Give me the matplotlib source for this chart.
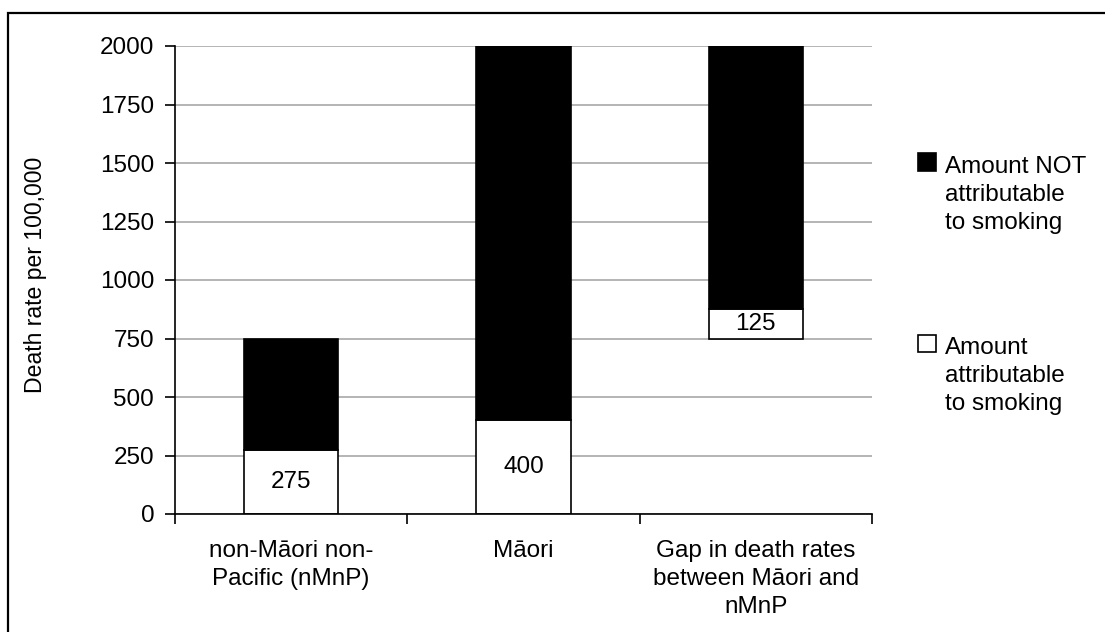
import matplotlib
matplotlib.use("Agg")
import matplotlib.pyplot as plt
from matplotlib.patches import Rectangle
from matplotlib.legend_handler import HandlerPatch

plt.rcParams['font.family'] = ['Liberation Sans', 'DejaVu Sans']

categories = ["non-Māori non-\nPacific (nMnP)", "Māori",
              "Gap in death rates\nbetween Māori and\nnMnP"]
base = [0, 0, 750]                 # invisible floor of each bar
attributable = [275, 400, 125]
not_attributable = [475, 1600, 1125]
yticks = [0, 250, 500, 750, 1000, 1250, 1500, 1750, 2000]
legend_labels = ["Amount NOT\nattributable\nto smoking",
                 "Amount\nattributable\nto smoking"]

FS = 17.5
LS = 1.35
W, H = 1105, 632
fig = plt.figure(figsize=(W / 100, H / 100), dpi=100)
ax = fig.add_axes([175 / W, 1 - 514 / H, 697 / W, 468 / H])

x = list(range(len(categories)))
width = 0.405
white = ax.bar(x, attributable, width, bottom=base, color="white",
               edgecolor="black", linewidth=1.2, zorder=3)
tops = [b + a for b, a in zip(base, attributable)]
black = ax.bar(x, not_attributable, width, bottom=tops, color="black",
               edgecolor="black", linewidth=1.2, zorder=3)
ax.bar_label(white, labels=[str(v) for v in attributable],
             label_type="center", fontsize=FS)

ax.set_xlim(-0.5, 2.5)
ax.set_ylim(0, 2000)
ax.set_yticks(yticks)
ax.set_xticks(x)
ax.set_xticklabels(categories, fontsize=FS, linespacing=LS)
ax.set_xticks([-0.5, 0.5, 1.5, 2.5], minor=True)
ax.tick_params(axis="x", which="major", length=0, pad=19)
ax.tick_params(axis="x", which="minor", length=7, width=1.2, direction="out")
ax.tick_params(axis="y", length=7, width=1.2, direction="out", pad=8,
               labelsize=FS)
ax.grid(axis="y", color="#a0a0a0", linewidth=1.1, zorder=0)
ax.set_axisbelow(True)
for s in ["top", "right"]:
    ax.spines[s].set_visible(False)
for s in ["left", "bottom"]:
    ax.spines[s].set_linewidth(1.2)
    ax.spines[s].set_zorder(4)

ax.set_ylabel("Death rate per 100,000", fontsize=16.6)
ax.yaxis.set_label_coords(-0.184, 0.51)


# legend squares sit level with the first line of each label
def top_square(legend, orig_handle, xdescent, ydescent, width, height, fontsize):
    return Rectangle((-xdescent, -ydescent + LS * fontsize), width, height)


handles = [black.patches[0], white.patches[0]]
leg = fig.legend(handles, legend_labels, loc="upper left",
                 bbox_to_anchor=(918 / W, 1 - 156 / H), frameon=False,
                 fontsize=FS, handlelength=0.72, handleheight=0.72,
                 handletextpad=0.4, labelspacing=4.25, borderpad=0,
                 borderaxespad=0,
                 handler_map={h: HandlerPatch(patch_func=top_square)
                              for h in handles})
for t in leg.get_texts():
    t.set_linespacing(LS)

# outer chart border (runs off the right and bottom edges)
fig.patches.append(Rectangle((8 / W, -0.1), 1.2, 1.1 - 13 / H,
                             transform=fig.transFigure, fill=False,
                             edgecolor="black", linewidth=1.6))

fig.savefig("out.png", dpi=100)
